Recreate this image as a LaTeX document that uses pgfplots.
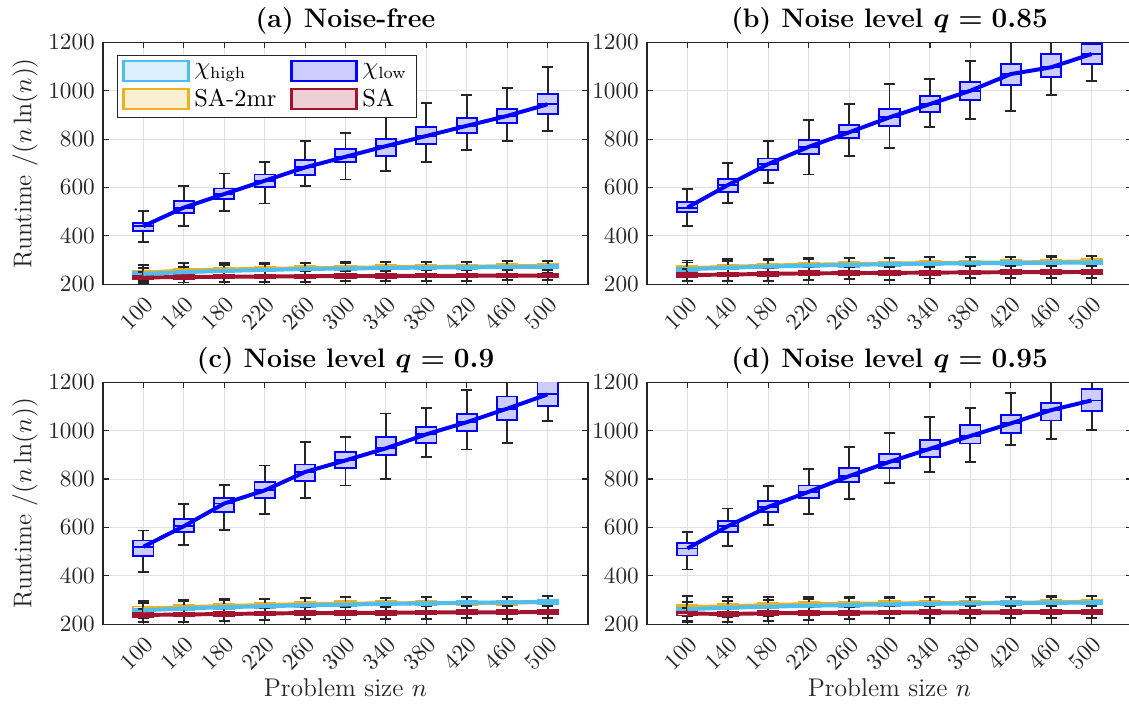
\documentclass[border=0pt]{standalone}
\usepackage{amsmath}
\usepackage{pgfplots}
\usepackage{pgfplotstable}
\usepgfplotslibrary{statistics}
\pgfplotsset{compat=1.18}

\definecolor{mcyan}{rgb}{0.301,0.745,0.933}
\definecolor{mblue}{rgb}{0,0,1}
\definecolor{myellow}{rgb}{0.929,0.694,0.125}
\definecolor{mred}{rgb}{0.635,0.078,0.184}

% columns: n, lower whisker, q1, median, q3, upper whisker
% ---- (a) noise-free
\pgfplotstableread{
n lw q1 med q3 uw
100 375 421 440 455 502
140 440 493 517 544 606
180 504 551 573 596 658
220 534 603 628 654 706
260 606 651 683 713 793
300 633 705 727 758 826
340 669 731 771 800 920
380 704 780 813 849 948
420 755 824 855 888 984
460 793 865 896 925 1011
500 833 904 944 985 1097
}\aLow
\pgfplotstableread{
n lw q1 med q3 uw
100 215 237 243 249 266
140 222 244 250 256 273
180 226 249 255 261 278
220 229 253 259 265 282
260 232 257 263 269 286
300 234 259 265 271 288
340 236 261 267 273 290
380 237 263 269 275 292
420 238 264 270 276 293
460 239 265 271 277 294
500 240 266 272 278 295
}\aHigh
\pgfplotstableread{
n lw q1 med q3 uw
100 218 240 248 256 280
140 226 249 257 265 287
180 230 253 261 269 288
220 233 256 264 272 289
260 235 258 266 274 290
300 237 260 268 276 291
340 239 262 270 278 292
380 241 264 272 280 293
420 242 265 273 281 294
460 243 266 274 282 295
500 245 268 276 284 297
}\aMr
\pgfplotstableread{
n lw q1 med q3 uw
100 206 221 228 235 250
140 207 223 230 237 252
180 208 224 231 238 253
220 210 225 232 239 254
260 211 226 233 240 255
300 212 227 234 241 256
340 213 227 234 241 256
380 214 228 235 242 257
420 215 228 235 242 257
460 216 229 236 243 258
500 217 229 236 243 258
}\aSA
% ---- (b) q = 0.85
\pgfplotstableread{
n lw q1 med q3 uw
100 441 497 517 541 593
140 535 582 610 635 702
180 617 672 697 720 792
220 654 737 768 796 879
260 729 803 828 858 945
300 763 855 890 925 1028
340 851 913 945 977 1049
380 883 962 1000 1035 1124
420 917 1024 1069 1111 1230
460 982 1058 1097 1151 1250
500 1042 1110 1152 1194 1260
}\bLow
\pgfplotstableread{
n lw q1 med q3 uw
100 230 255 262 269 290
140 236 261 268 275 297
180 240 266 273 280 302
220 243 270 277 284 305
260 246 273 280 287 307
300 248 276 283 290 309
340 250 278 285 292 311
380 252 280 287 294 312
420 253 281 288 295 313
460 254 282 289 296 314
500 255 283 290 297 315
}\bHigh
\pgfplotstableread{
n lw q1 med q3 uw
100 232 257 266 275 298
140 238 263 272 281 304
180 242 268 277 286 306
220 245 272 281 290 308
260 247 274 283 292 309
300 249 276 285 294 310
340 252 279 288 297 312
380 253 280 289 298 313
420 254 281 290 299 314
460 256 283 292 301 316
500 258 286 295 304 318
}\bMr
\pgfplotstableread{
n lw q1 med q3 uw
100 214 230 238 246 262
140 212 232 240 248 265
180 214 235 243 251 268
220 218 237 245 253 270
260 222 238 246 254 271
300 219 239 247 255 272
340 224 240 248 256 273
380 225 241 249 257 274
420 226 242 250 258 275
460 225 242 250 258 275
500 227 243 251 259 276
}\bSA
% ---- (c) q = 0.9
\pgfplotstableread{
n lw q1 med q3 uw
100 415 481 520 546 587
140 529 580 605 633 698
180 591 663 699 722 776
220 656 722 753 787 856
260 722 791 829 860 953
300 773 845 877 911 975
340 801 898 927 975 1071
380 891 950 985 1016 1092
420 922 998 1035 1069 1167
460 950 1044 1091 1141 1240
500 1040 1102 1150 1205 1280
}\cLow
\pgfplotstableread{
n lw q1 med q3 uw
100 226 250 257 264 287
140 232 258 265 272 294
180 236 263 270 277 300
220 240 267 274 281 303
260 243 271 278 285 306
300 245 274 281 288 310
340 248 277 284 291 309
380 250 279 286 293 311
420 251 281 288 295 312
460 252 283 290 297 313
500 254 285 292 299 315
}\cHigh
\pgfplotstableread{
n lw q1 med q3 uw
100 230 255 264 273 296
140 236 261 270 279 300
180 240 266 275 284 303
220 244 270 279 288 305
260 247 274 283 292 308
300 249 276 285 294 312
340 250 277 286 295 310
380 251 278 287 296 312
420 252 279 288 297 313
460 253 280 289 298 314
500 255 283 292 301 316
}\cMr
\pgfplotstableread{
n lw q1 med q3 uw
100 210 230 238 246 262
140 208 232 240 248 264
180 212 234 242 250 266
220 216 236 244 252 268
260 220 238 246 254 270
300 219 238 246 254 271
340 222 239 247 255 272
380 223 240 248 256 273
420 224 241 249 257 274
460 223 241 249 257 274
500 225 242 250 258 275
}\cSA
% ---- (d) q = 0.95
\pgfplotstableread{
n lw q1 med q3 uw
100 426 484 513 536 582
140 522 582 605 628 678
180 609 663 685 708 770
220 656 722 747 773 840
260 718 787 812 847 932
300 785 847 871 905 992
340 828 891 925 960 1056
380 870 947 978 1023 1095
420 939 992 1030 1063 1157
460 964 1042 1085 1116 1230
500 1002 1081 1125 1171 1205
}\dLow
\pgfplotstableread{
n lw q1 med q3 uw
100 215 255 262 269 290
140 230 261 268 275 296
180 235 265 272 279 300
220 240 269 276 283 304
260 243 272 279 286 306
300 246 275 282 289 308
340 248 277 284 291 310
380 250 279 286 293 312
420 251 280 287 294 313
460 252 281 288 295 314
500 253 282 289 296 315
}\dHigh
\pgfplotstableread{
n lw q1 med q3 uw
100 232 260 270 280 316
140 238 265 274 283 312
180 243 270 279 288 314
220 247 274 283 292 312
260 248 275 284 293 311
300 250 277 286 295 313
340 251 278 287 296 314
380 252 279 288 297 312
420 253 280 289 298 314
460 254 281 290 299 315
500 256 284 293 302 316
}\dMr
\pgfplotstableread{
n lw q1 med q3 uw
100 210 236 244 252 268
140 208 234 242 250 266
180 214 237 245 253 270
220 218 238 246 254 271
260 222 239 247 255 272
300 224 240 248 256 274
340 226 241 249 257 275
380 226 241 249 257 275
420 225 241 249 257 275
460 227 242 250 258 276
500 227 242 250 258 276
}\dSA

\pgfplotsset{
  bx/.style={forget plot, draw=#1,
    boxplot/draw direction=y,
    boxplot/box extend=20, boxplot/whisker extend=11,
    boxplot/every box/.style={draw=#1, fill=#1!20, line width=0.8pt},
    boxplot/every whisker/.style={draw=black!85, line width=0.8pt},
    boxplot/every median/.style={draw=#1, line width=0.8pt}},
  panel/.style={
    scale only axis, width=208.55pt, height=104pt, anchor=north west,
    xmin=60, xmax=540, ymin=200, ymax=1200,
    xtick={100,140,...,500}, ytick={200,400,...,1200},
    grid=major, major grid style={black!12, line width=0.4pt},
    tick align=inside, major tick length=2.6pt,
    axis line style={black!85, line width=0.5pt},
    tick style={black!85, line width=0.5pt},
    tick label style={font=\fontsize{10}{12}\selectfont, text=black!85},
    xticklabel style={rotate=45, anchor=north east},
    /pgf/number format/1000 sep={},
    title style={at={(axis description cs:0.5,1)}, anchor=south, yshift=-6pt,
      font=\fontsize{11.5}{13}\selectfont\bfseries\boldmath},
    label style={font=\fontsize{11}{13}\selectfont, text=black!85},
    xlabel style={at={(axis description cs:0.5,-0.2625)}, anchor=center},
    ylabel style={at={(axis description cs:-0.1606,0.5)}, anchor=center},
  }
}

% one box per row of a table
\newcommand{\boxes}[2]{%
  \pgfplotsinvokeforeach{0,...,10}{%
    \pgfplotstablegetelem{##1}{n}\of{#1}\let\bN\pgfplotsretval
    \pgfplotstablegetelem{##1}{lw}\of{#1}\let\bLW\pgfplotsretval
    \pgfplotstablegetelem{##1}{q1}\of{#1}\let\bQa\pgfplotsretval
    \pgfplotstablegetelem{##1}{med}\of{#1}\let\bM\pgfplotsretval
    \pgfplotstablegetelem{##1}{q3}\of{#1}\let\bQb\pgfplotsretval
    \pgfplotstablegetelem{##1}{uw}\of{#1}\let\bUW\pgfplotsretval
    \edef\next{\noexpand\addplot[bx=#2, boxplot prepared={draw direction=y,
      draw position=\bN,
      lower whisker=\bLW, lower quartile=\bQa, median=\bM,
      upper quartile=\bQb, upper whisker=\bUW}] coordinates {};}%
    \next
  }%
}
\newcommand{\medline}[2]{\addplot[#2, line width=1.7pt, forget plot] table[x=n, y=med] {#1};}
% high, low, 2mr, SA
\newcommand{\panelplots}[4]{%
  \boxes{#3}{myellow}\boxes{#1}{mcyan}\boxes{#4}{mred}\boxes{#2}{mblue}%
  \medline{#3}{myellow}\medline{#4}{mred}\medline{#1}{mcyan}\medline{#2}{mblue}%
}

\begin{document}
\begin{tikzpicture}
\begin{axis}[panel, at={(44.29pt,-18.23pt)},
  title={(a) Noise-free},
  ylabel={Runtime $/(n\ln(n))$},
  legend style={at={(0,1)}, anchor=north west, xshift=6pt, yshift=-5.4pt,
    legend columns=2, font=\fontsize{10.5}{12.5}\selectfont,
    draw=black!85, line width=0.5pt, inner xsep=2pt, inner ysep=1.5pt,
    row sep=0.5pt, cells={anchor=west},
    /tikz/every even column/.append style={column sep=4pt}},
]
\panelplots{\aHigh}{\aLow}{\aMr}{\aSA}
\addlegendimage{legend image code/.code={\draw[draw=mcyan, fill=mcyan!20, line width=1pt] (0pt,-4.3pt) rectangle (28pt,4.3pt);}}
\addlegendentry{$\chi_{\mathrm{high}}$}
\addlegendimage{legend image code/.code={\draw[draw=mblue, fill=mblue!20, line width=1pt] (0pt,-4.3pt) rectangle (28pt,4.3pt);}}
\addlegendentry{$\chi_{\mathrm{low}}$}
\addlegendimage{legend image code/.code={\draw[draw=myellow, fill=myellow!20, line width=1pt] (0pt,-4.3pt) rectangle (28pt,4.3pt);}}
\addlegendentry{SA-2mr}
\addlegendimage{legend image code/.code={\draw[draw=mred, fill=mred!20, line width=1pt] (0pt,-4.3pt) rectangle (28pt,4.3pt);}}
\addlegendentry{SA}
\end{axis}

\begin{axis}[panel, at={(278.21pt,-18.23pt)},
  title={(b) Noise level $q = 0.85$}]
\panelplots{\bHigh}{\bLow}{\bMr}{\bSA}
\end{axis}

\begin{axis}[panel, at={(44.29pt,-164.39pt)},
  title={(c) Noise level $q = 0.9$},
  ylabel={Runtime $/(n\ln(n))$},
  xlabel={Problem size $n$}]
\panelplots{\cHigh}{\cLow}{\cMr}{\cSA}
\end{axis}

\begin{axis}[panel, at={(278.21pt,-164.39pt)},
  title={(d) Noise level $q = 0.95$},
  xlabel={Problem size $n$}]
\panelplots{\dHigh}{\dLow}{\dMr}{\dSA}
\end{axis}

\pgfresetboundingbox
\path[use as bounding box] (0pt,0pt) rectangle (485.47pt,-304.01pt);
\end{tikzpicture}
\end{document}
